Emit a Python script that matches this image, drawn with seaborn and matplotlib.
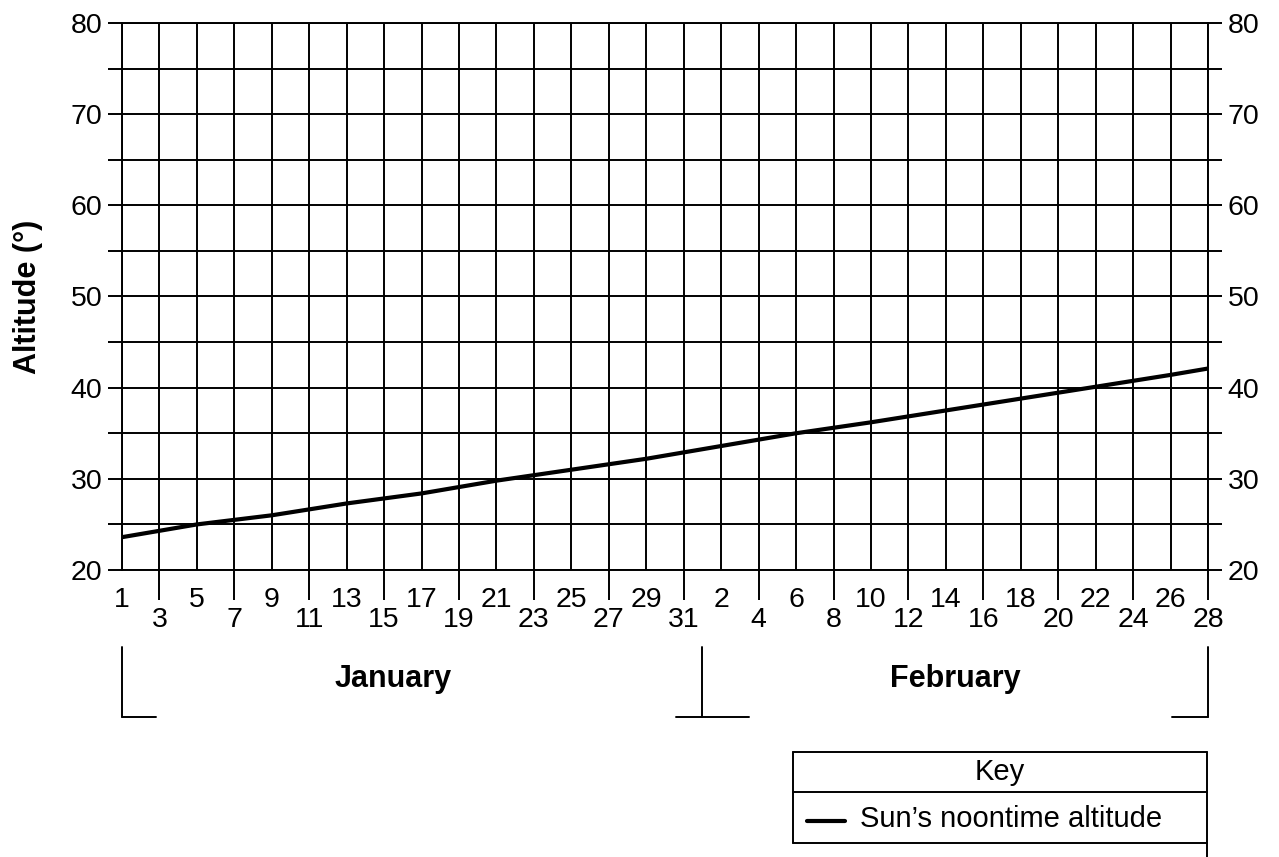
import numpy as np
import pandas as pd
import matplotlib.pyplot as plt
import seaborn as sns
from matplotlib.lines import Line2D

# data (day of year -> sun's noontime altitude)
sample_doy = [1, 5, 9, 13, 17, 21, 25, 29, 33, 37, 41, 45, 49, 53, 57, 59]
altitude = [23.6, 25.0, 26.0, 27.3, 28.4, 29.8, 31.0, 32.2, 33.6, 35.0,
            36.2, 37.5, 38.8, 40.1, 41.4, 42.1]

jan_days = list(range(1, 32, 2))
feb_days = list(range(2, 29, 2))
months = ["January", "February"]

sns.set_style("white")
plt.rcParams['font.family'] = ['Liberation Sans', 'DejaVu Sans']
plt.rcParams['text.color'] = 'black'
plt.rcParams['axes.labelcolor'] = 'black'
plt.rcParams['xtick.color'] = 'black'
plt.rcParams['ytick.color'] = 'black'

W, H = 1279, 857
fig = plt.figure(figsize=(W / 100, H / 100), dpi=100)
ax = fig.add_axes([122 / W, 1 - 570 / H, 1086 / W, 547 / H])

df = pd.DataFrame({"doy": sample_doy, "alt": altitude})
sns.lineplot(data=df, x="doy", y="alt", color="black", lw=3, ax=ax)

# x ticks: every other day, labels alternating up/down
doy_ticks = jan_days + [31 + d for d in feb_days]
tick_labels = [str(d) for d in jan_days + feb_days]
ax.set_xticks(doy_ticks[0::2], tick_labels[0::2])
ax.set_xticks(doy_ticks[1::2], tick_labels[1::2], minor=True)
ax.tick_params(axis="x", which="major", length=7, width=1.4, pad=5,
               labelsize=20.5, color="black", labelcolor="black")
ax.tick_params(axis="x", which="minor", length=21.5, width=1.4, pad=5,
               labelsize=20.5, color="black", labelcolor="black", bottom=True)

ax.set_yticks(np.arange(20, 81, 10))
ax.set_yticks(np.arange(25, 80, 10), minor=True)
ax.tick_params(axis="y", which="both", left=True, right=True, labelright=True,
               length=10, width=1.4, pad=4, labelsize=20.5, color="black",
               labelcolor="black")

ax.set_xlim(1, 59)
ax.set_ylim(20, 80)
ax.grid(which="both", color="black", lw=1.4)
ax.set_axisbelow(True)
for s in ax.spines.values():
    s.set_color("black")
    s.set_linewidth(1.4)

ax.set_xlabel("")
ax.set_ylabel("Altitude (°)", fontsize=22, fontweight="bold", color="black")
ax.yaxis.set_label_coords(-0.073, 0.5)

# month brackets under the axis
tr = ax.get_xaxis_transform()
y_top, y_foot = -0.141, -0.268
brk = dict(color="black", lw=1.4, transform=tr, clip_on=False)
ax.add_line(Line2D([1, 1], [y_top, y_foot], **brk))
ax.add_line(Line2D([1, 2.8], [y_foot, y_foot], **brk))
ax.add_line(Line2D([32, 32], [y_top, y_foot], **brk))
ax.add_line(Line2D([30.6, 34.5], [y_foot, y_foot], **brk))
ax.add_line(Line2D([59, 59], [y_top, y_foot], **brk))
ax.add_line(Line2D([57.1, 59], [y_foot, y_foot], **brk))
ax.text(15.5, -0.214, months[0], transform=tr, ha="center", va="baseline",
        fontsize=22, fontweight="bold")
ax.text(45.5, -0.214, months[1], transform=tr, ha="center", va="baseline",
        fontsize=22, fontweight="bold")

# key box
def fx(px):
    return px / W

def fy(py):
    return 1 - py / H

kb = dict(color="black", lw=1.4, transform=fig.transFigure)
fig.add_artist(Line2D([fx(793), fx(1207)], [fy(752), fy(752)], **kb))
fig.add_artist(Line2D([fx(793), fx(1207)], [fy(792), fy(792)], **kb))
fig.add_artist(Line2D([fx(793), fx(1207)], [fy(843), fy(843)], **kb))
fig.add_artist(Line2D([fx(793), fx(793)], [fy(752), fy(843)], **kb))
fig.add_artist(Line2D([fx(1207), fx(1207)], [fy(752), fy(857)], **kb))
fig.add_artist(Line2D([fx(807), fx(845)], [fy(821), fy(821)], color="black",
                      lw=3, transform=fig.transFigure))
fig.text(fx(1000), fy(772), "Key", ha="center", va="center", fontsize=21)
fig.text(fx(860), fy(819), "Sun\u2019s noontime altitude", ha="left",
         va="center", fontsize=21)

fig.savefig("out.png", dpi=100)
